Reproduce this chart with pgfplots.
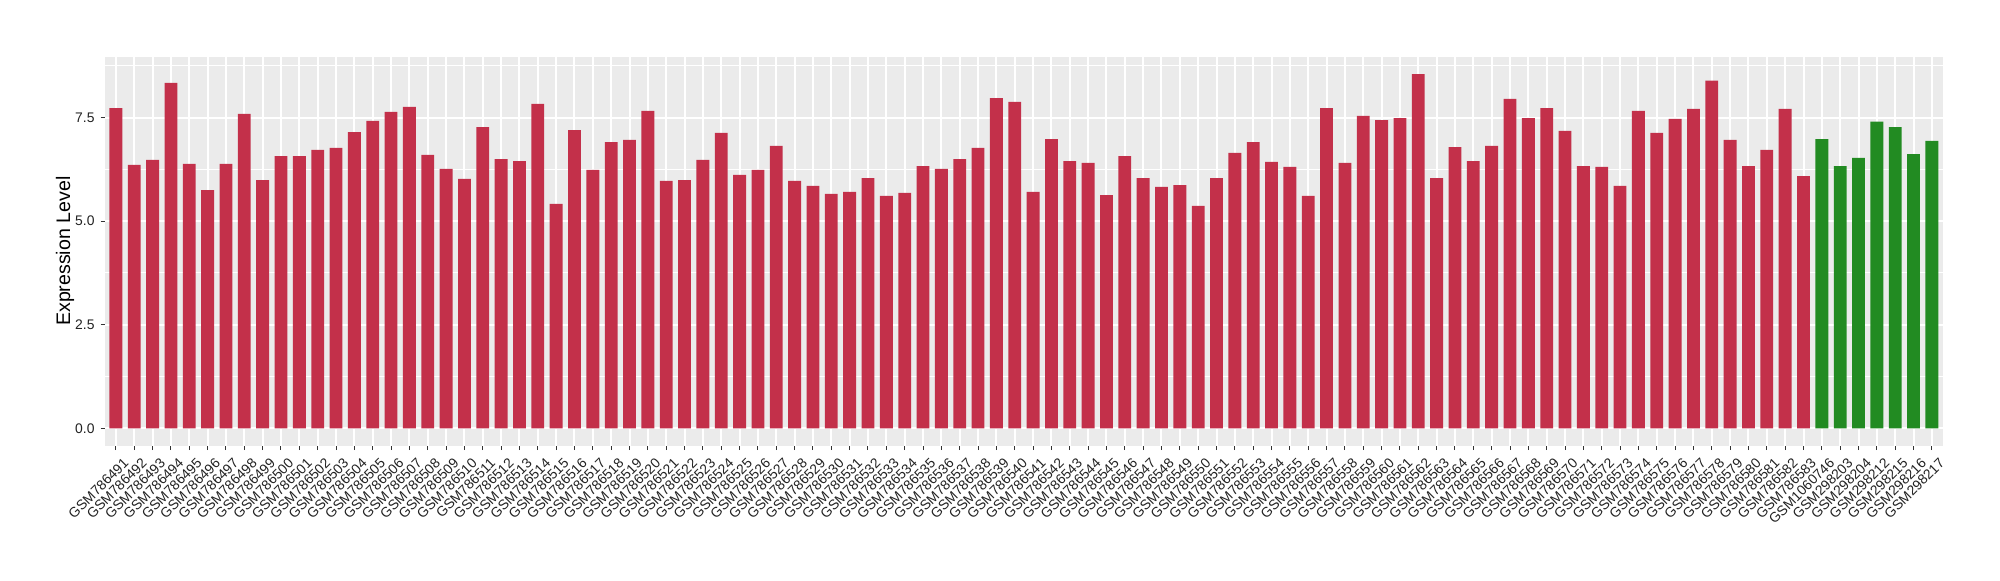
\documentclass[border=0pt]{standalone}
\usepackage{pgfplots}
\pgfplotsset{compat=1.18}
\usepackage{fontspec}
\setmainfont{Liberation Sans}
\definecolor{barred}{RGB}{195,48,74}
\definecolor{bargreen}{RGB}{34,139,34}
\definecolor{panelbg}{HTML}{EBEBEB}
\definecolor{ticktext}{HTML}{222222}
\begin{document}
\begin{tikzpicture}
\path[use as bounding box] (-52.45pt,-67.15pt) rectangle (947.55pt,222.85pt);
\begin{axis}[
  at={(0,0)}, anchor=south west,
  scale only axis, width=919pt, height=194.5pt,
  xmin=-0.6, xmax=99.6, ymin=-0.42, ymax=8.97,
  axis background/.style={fill=panelbg},
  axis line style={draw=none},
  ybar, bar width=0.7, bar shift=0pt,
  xtick={0,...,99},
  xticklabels={GSM786491,GSM786492,GSM786493,GSM786494,GSM786495,GSM786496,GSM786497,GSM786498,GSM786499,GSM786500,
GSM786501,GSM786502,GSM786503,GSM786504,GSM786505,GSM786506,GSM786507,GSM786508,GSM786509,GSM786510,
GSM786511,GSM786512,GSM786513,GSM786514,GSM786515,GSM786516,GSM786517,GSM786518,GSM786519,GSM786520,
GSM786521,GSM786522,GSM786523,GSM786524,GSM786525,GSM786526,GSM786527,GSM786528,GSM786529,GSM786530,
GSM786531,GSM786532,GSM786533,GSM786534,GSM786535,GSM786536,GSM786537,GSM786538,GSM786539,GSM786540,
GSM786541,GSM786542,GSM786543,GSM786544,GSM786545,GSM786546,GSM786547,GSM786548,GSM786549,GSM786550,
GSM786551,GSM786552,GSM786553,GSM786554,GSM786555,GSM786556,GSM786557,GSM786558,GSM786559,GSM786560,
GSM786561,GSM786562,GSM786563,GSM786564,GSM786565,GSM786566,GSM786567,GSM786568,GSM786569,GSM786570,
GSM786571,GSM786572,GSM786573,GSM786574,GSM786575,GSM786576,GSM786577,GSM786578,GSM786579,GSM786580,
GSM786581,GSM786582,GSM786583,GSM1060746,GSM298203,GSM298204,GSM298212,GSM298215,GSM298216,GSM298217},
  ytick={0,2.5,5,7.5},
  yticklabels={0.0,2.5,5.0,7.5},
  minor ytick={1.25,3.75,6.25,8.75},
  xtick pos=bottom, ytick pos=left,
  tick align=outside,
  major tick length=2.2pt, minor tick length=0pt,
  tick style={color=black!80, line width=0.5pt},
  xmajorgrids, ymajorgrids, yminorgrids,
  major grid style={white, line width=1pt},
  minor grid style={white, line width=0.5pt},
  xticklabel style={rotate=45, anchor=north east, inner sep=0pt, yshift=-4.65pt, text=ticktext, font=\fontsize{6.95}{8}\selectfont},
  yticklabel style={anchor=east, inner sep=0pt, xshift=-2.8pt, text=ticktext, font=\fontsize{6.95}{8}\selectfont},
  ylabel={Expression Level},
  ylabel style={at={(axis description cs:-0.02171,0.5)}, anchor=center, inner sep=0pt, font=\fontsize{9.8}{11}\selectfont},
]
\addplot[fill=barred, draw=none] coordinates {
(0,7.73) (1,6.36) (2,6.48) (3,8.34) (4,6.38) (5,5.75) (6,6.38) (7,7.59) (8,5.99) (9,6.57)
(10,6.57) (11,6.72) (12,6.77) (13,7.15) (14,7.42) (15,7.64) (16,7.76) (17,6.60) (18,6.26) (19,6.02)
(20,7.27) (21,6.50) (22,6.45) (23,7.83) (24,5.42) (25,7.20) (26,6.24) (27,6.91) (28,6.96) (29,7.66)
(30,5.97) (31,5.99) (32,6.48) (33,7.13) (34,6.12) (35,6.24) (36,6.82) (37,5.97) (38,5.85) (39,5.66)
(40,5.71) (41,6.04) (42,5.61) (43,5.68) (44,6.33) (45,6.26) (46,6.50) (47,6.77) (48,7.97) (49,7.88)
(50,5.71) (51,6.98) (52,6.45) (53,6.41) (54,5.63) (55,6.57) (56,6.04) (57,5.83) (58,5.87) (59,5.37)
(60,6.04) (61,6.65) (62,6.91) (63,6.43) (64,6.31) (65,5.61) (66,7.73) (67,6.41) (68,7.54) (69,7.44)
(70,7.49) (71,8.55) (72,6.04) (73,6.79) (74,6.45) (75,6.82) (76,7.95) (77,7.49) (78,7.73) (79,7.18)
(80,6.33) (81,6.31) (82,5.85) (83,7.66) (84,7.13) (85,7.47) (86,7.71) (87,8.39) (88,6.96) (89,6.33)
(90,6.72) (91,7.71) (92,6.09)
};
\addplot[fill=bargreen, draw=none] coordinates {
(93,6.98) (94,6.33) (95,6.53) (96,7.40) (97,7.27) (98,6.62) (99,6.94)
};
\end{axis}
\end{tikzpicture}
\end{document}
